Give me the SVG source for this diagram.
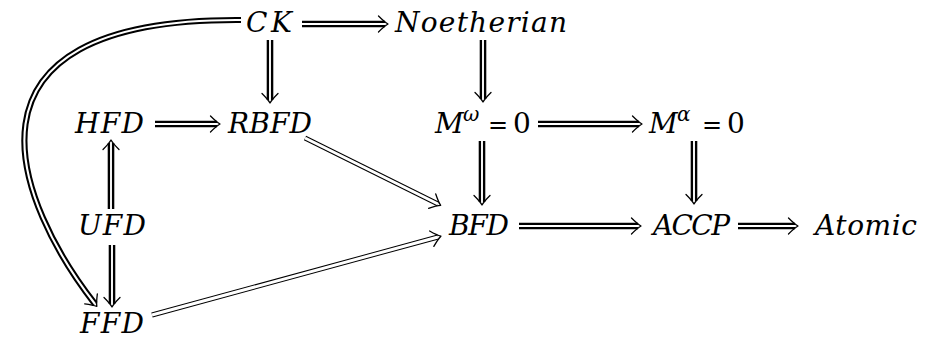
<svg xmlns="http://www.w3.org/2000/svg" width="937" height="339" viewBox="0 0 937 339">
<style>
  text { font-family: "DejaVu Serif", "Liberation Serif", serif; font-style: italic; font-size: 28px; fill: #000; }
  .u { font-style: normal; }
  .eq { font-style: normal; font-size: 24px; }
  .sup { font-size: 20px; }
  .ob { fill: none; stroke: #000; stroke-width: 6.6; }
  .iw { fill: none; stroke: #fff; stroke-width: 1.9; marker-end: url(#imp); }
  .obt { fill: none; stroke: #000; stroke-width: 5; }
  .iwt { fill: none; stroke: #fff; stroke-width: 3; marker-end: url(#imp); }
  .obc { fill: none; stroke: #000; stroke-width: 6.2; }
  .iwc { fill: none; stroke: #fff; stroke-width: 2.1; marker-end: url(#imp); }
</style>
<defs>
  <marker id="imp" markerUnits="userSpaceOnUse" viewBox="-9 -10 14 20" markerWidth="14" markerHeight="20" refX="0" refY="0" orient="auto" overflow="visible">
    <path d="M -6.5,-8 Q -0.5,-2 3,0 Q -0.5,2 -6.5,8" fill="none" stroke="#000" stroke-width="1.3" stroke-linecap="round" stroke-linejoin="round"/>
  </marker>
</defs>

<g id="connectors">
  <g id="e-ck-noeth"><path class="ob" d="M 302,24 H 385"/><path class="iw" d="M 302,24 H 385"/></g>
  <g id="e-hfd-rbfd"><path class="ob" d="M 155,124 H 217"/><path class="iw" d="M 155,124 H 217"/></g>
  <g id="e-mw-ma"><path class="ob" d="M 538,124 H 639"/><path class="iw" d="M 538,124 H 639"/></g>
  <g id="e-bfd-accp"><path class="ob" d="M 519,226 H 638"/><path class="iw" d="M 519,226 H 638"/></g>
  <g id="e-accp-atomic"><path class="ob" d="M 738,226 H 795"/><path class="iw" d="M 738,226 H 795"/></g>

  <g id="e-ck-rbfd"><path class="ob" d="M 270,40 V 100"/><path class="iw" d="M 270,40 V 100"/></g>
  <g id="e-noeth-mw"><path class="ob" d="M 483,40 V 99"/><path class="iw" d="M 483,40 V 99"/></g>
  <g id="e-mw-bfd"><path class="ob" d="M 482,141 V 202"/><path class="iw" d="M 482,141 V 202"/></g>
  <g id="e-ma-accp"><path class="ob" d="M 694,141 V 201"/><path class="iw" d="M 694,141 V 201"/></g>
  <g id="e-ufd-hfd"><path class="ob" d="M 111,209 V 143"/><path class="iw" d="M 111,209 V 143"/></g>
  <g id="e-ufd-ffd"><path class="ob" d="M 112,245 V 304"/><path class="iw" d="M 112,245 V 304"/></g>

  <g id="e-rbfd-bfd"><path class="obt" d="M 305,138 L 438,204"/><path class="iwt" d="M 305,138 L 438,204"/></g>
  <g id="e-ffd-bfd"><path class="obt" d="M 152,315 L 438,237"/><path class="iwt" d="M 152,315 L 438,237"/></g>

  <g id="e-ck-ffd"><path class="obc" d="M 241,20 C -62,18 18,205 95,304"/><path class="iwc" d="M 241,20 C -62,18 18,205 95,304"/></g>
</g>

<g id="n-ck"><text x="246" y="32" textLength="46" lengthAdjust="spacing">CK</text></g>
<g id="n-noetherian"><text x="395" y="32" textLength="172" lengthAdjust="spacing">Noetherian</text></g>
<g id="n-hfd"><text x="75" y="133" textLength="69" lengthAdjust="spacing">HFD</text></g>
<g id="n-rbfd"><text x="228" y="133" textLength="84" lengthAdjust="spacing">RBFD</text></g>
<g id="n-mw"><text y="133"><tspan x="435">M</tspan><tspan class="sup" x="463" y="121">ω</tspan><tspan class="eq" x="488" y="133">=</tspan><tspan class="u" x="513">0</tspan></text></g>
<g id="n-ma"><text y="133"><tspan x="649">M</tspan><tspan class="sup" x="677" y="121">α</tspan><tspan class="eq" x="702" y="133">=</tspan><tspan class="u" x="727">0</tspan></text></g>
<g id="n-ufd"><text x="78" y="235" textLength="68" lengthAdjust="spacing">UFD</text></g>
<g id="n-bfd"><text x="449" y="235" textLength="60" lengthAdjust="spacing">BFD</text></g>
<g id="n-accp"><text x="653" y="235" textLength="77" lengthAdjust="spacing">ACCP</text></g>
<g id="n-atomic"><text x="815" y="235" textLength="102" lengthAdjust="spacing">Atomic</text></g>
<g id="n-ffd"><text x="80" y="333" textLength="64" lengthAdjust="spacing">FFD</text></g>
</svg>
